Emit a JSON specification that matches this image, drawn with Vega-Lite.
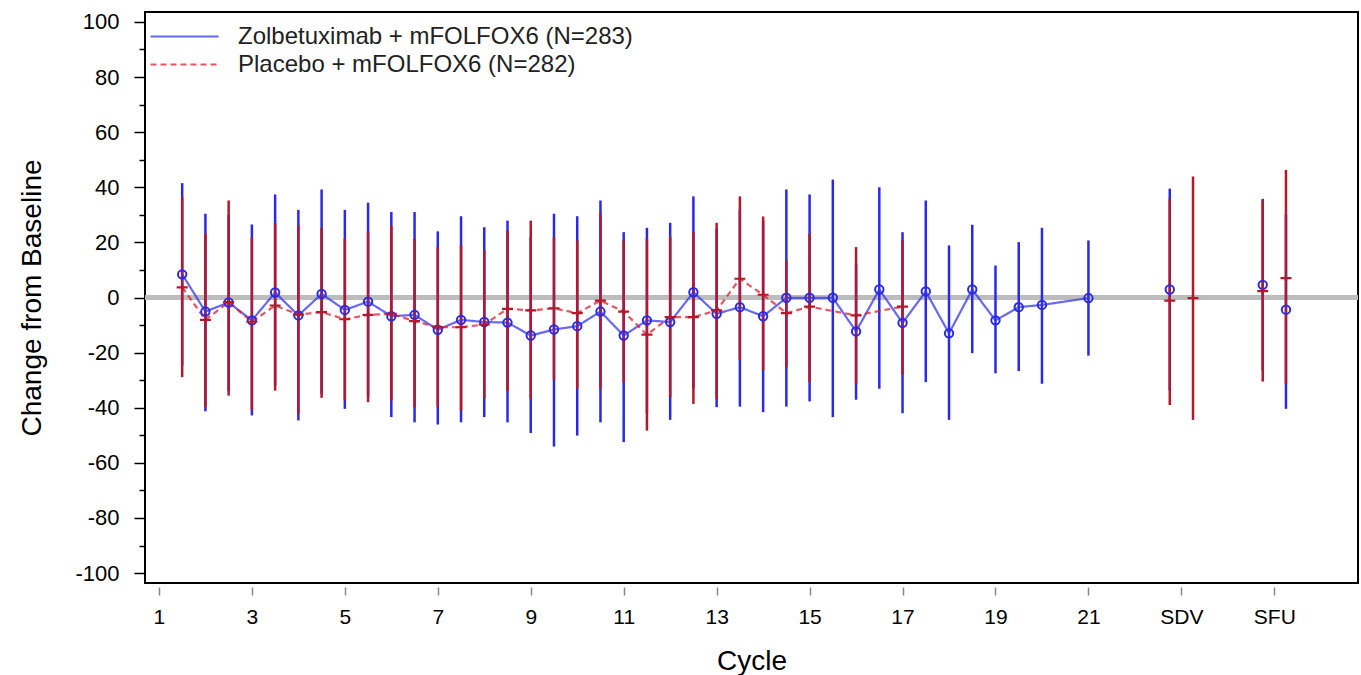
{
  "$schema": "https://vega.github.io/schema/vega-lite/v6.json",
  "autosize": "none",
  "width": 1213,
  "height": 571,
  "padding": {"left": 145, "top": 12, "right": 3, "bottom": 92},
  "background": "white",
  "config": {
    "view": {"stroke": "black", "strokeWidth": 2},
    "font": "Liberation Sans",
    "axis": {"labelFont": "Liberation Sans", "titleFont": "Liberation Sans", "labelColor": "black", "titleColor": "black", "titleFontWeight": "normal", "grid": false}
  },
  "datasets": {
    "means": [
      {"cycle": 1.5, "arm": "Zolbetuximab + mFOLFOX6 (N=283)", "mean": 8.4, "lo": -24.7, "hi": 41.5},
      {"cycle": 2, "arm": "Zolbetuximab + mFOLFOX6 (N=283)", "mean": -5.1, "lo": -41.3, "hi": 30.4},
      {"cycle": 2.5, "arm": "Zolbetuximab + mFOLFOX6 (N=283)", "mean": -1.8, "lo": -34, "hi": 30},
      {"cycle": 3, "arm": "Zolbetuximab + mFOLFOX6 (N=283)", "mean": -8.3, "lo": -42.8, "hi": 26.5},
      {"cycle": 3.5, "arm": "Zolbetuximab + mFOLFOX6 (N=283)", "mean": 1.8, "lo": -32, "hi": 37.4},
      {"cycle": 4, "arm": "Zolbetuximab + mFOLFOX6 (N=283)", "mean": -6.5, "lo": -44.6, "hi": 31.8},
      {"cycle": 4.5, "arm": "Zolbetuximab + mFOLFOX6 (N=283)", "mean": 1.3, "lo": -35, "hi": 39.2},
      {"cycle": 5, "arm": "Zolbetuximab + mFOLFOX6 (N=283)", "mean": -4.5, "lo": -40.4, "hi": 31.8},
      {"cycle": 5.5, "arm": "Zolbetuximab + mFOLFOX6 (N=283)", "mean": -1.5, "lo": -36, "hi": 34.4},
      {"cycle": 6, "arm": "Zolbetuximab + mFOLFOX6 (N=283)", "mean": -6.8, "lo": -43.4, "hi": 31.0},
      {"cycle": 6.5, "arm": "Zolbetuximab + mFOLFOX6 (N=283)", "mean": -6.3, "lo": -45.3, "hi": 31.0},
      {"cycle": 7, "arm": "Zolbetuximab + mFOLFOX6 (N=283)", "mean": -11.7, "lo": -46.1, "hi": 24.0},
      {"cycle": 7.5, "arm": "Zolbetuximab + mFOLFOX6 (N=283)", "mean": -8.1, "lo": -45.3, "hi": 29.5},
      {"cycle": 8, "arm": "Zolbetuximab + mFOLFOX6 (N=283)", "mean": -8.9, "lo": -43.4, "hi": 25.5},
      {"cycle": 8.5, "arm": "Zolbetuximab + mFOLFOX6 (N=283)", "mean": -9.1, "lo": -45.3, "hi": 27.9},
      {"cycle": 9, "arm": "Zolbetuximab + mFOLFOX6 (N=283)", "mean": -13.8, "lo": -49.2, "hi": 22},
      {"cycle": 9.5, "arm": "Zolbetuximab + mFOLFOX6 (N=283)", "mean": -11.6, "lo": -54.1, "hi": 30.4},
      {"cycle": 10, "arm": "Zolbetuximab + mFOLFOX6 (N=283)", "mean": -10.4, "lo": -50.1, "hi": 29.5},
      {"cycle": 10.5, "arm": "Zolbetuximab + mFOLFOX6 (N=283)", "mean": -5.1, "lo": -45.3, "hi": 35.2},
      {"cycle": 11, "arm": "Zolbetuximab + mFOLFOX6 (N=283)", "mean": -13.8, "lo": -52.5, "hi": 23.7},
      {"cycle": 11.5, "arm": "Zolbetuximab + mFOLFOX6 (N=283)", "mean": -8.3, "lo": -42, "hi": 25.3},
      {"cycle": 12, "arm": "Zolbetuximab + mFOLFOX6 (N=283)", "mean": -8.9, "lo": -44.4, "hi": 27.1},
      {"cycle": 12.5, "arm": "Zolbetuximab + mFOLFOX6 (N=283)", "mean": 1.9, "lo": -33, "hi": 36.7},
      {"cycle": 13, "arm": "Zolbetuximab + mFOLFOX6 (N=283)", "mean": -5.9, "lo": -39.8, "hi": 25},
      {"cycle": 13.5, "arm": "Zolbetuximab + mFOLFOX6 (N=283)", "mean": -3.5, "lo": -39.6, "hi": 32},
      {"cycle": 14, "arm": "Zolbetuximab + mFOLFOX6 (N=283)", "mean": -6.8, "lo": -41.6, "hi": 28},
      {"cycle": 14.5, "arm": "Zolbetuximab + mFOLFOX6 (N=283)", "mean": -0.1, "lo": -39.6, "hi": 39.2},
      {"cycle": 15, "arm": "Zolbetuximab + mFOLFOX6 (N=283)", "mean": -0.1, "lo": -37.7, "hi": 37.4},
      {"cycle": 15.5, "arm": "Zolbetuximab + mFOLFOX6 (N=283)", "mean": -0.1, "lo": -43.4, "hi": 42.8},
      {"cycle": 16, "arm": "Zolbetuximab + mFOLFOX6 (N=283)", "mean": -12.3, "lo": -37.1, "hi": 12},
      {"cycle": 16.5, "arm": "Zolbetuximab + mFOLFOX6 (N=283)", "mean": 2.9, "lo": -33.1, "hi": 40.0},
      {"cycle": 17, "arm": "Zolbetuximab + mFOLFOX6 (N=283)", "mean": -9.2, "lo": -42.0, "hi": 23.7},
      {"cycle": 17.5, "arm": "Zolbetuximab + mFOLFOX6 (N=283)", "mean": 2.2, "lo": -30.7, "hi": 35.2},
      {"cycle": 18, "arm": "Zolbetuximab + mFOLFOX6 (N=283)", "mean": -13.0, "lo": -44.4, "hi": 18.9},
      {"cycle": 18.5, "arm": "Zolbetuximab + mFOLFOX6 (N=283)", "mean": 2.9, "lo": -20.2, "hi": 26.4},
      {"cycle": 19, "arm": "Zolbetuximab + mFOLFOX6 (N=283)", "mean": -8.3, "lo": -27.5, "hi": 11.6},
      {"cycle": 19.5, "arm": "Zolbetuximab + mFOLFOX6 (N=283)", "mean": -3.5, "lo": -26.7, "hi": 20.1},
      {"cycle": 20, "arm": "Zolbetuximab + mFOLFOX6 (N=283)", "mean": -2.7, "lo": -31.3, "hi": 25.3},
      {"cycle": 21, "arm": "Zolbetuximab + mFOLFOX6 (N=283)", "mean": -0.2, "lo": -21.1, "hi": 20.7},
      {"cycle": 22.75, "arm": "Zolbetuximab + mFOLFOX6 (N=283)", "mean": 2.9, "lo": -33.7, "hi": 39.5},
      {"cycle": 24.75, "arm": "Zolbetuximab + mFOLFOX6 (N=283)", "mean": 4.6, "lo": -26.6, "hi": 35.8},
      {"cycle": 25.25, "arm": "Zolbetuximab + mFOLFOX6 (N=283)", "mean": -4.4, "lo": -40.4, "hi": 30},
      {"cycle": 1.5, "arm": "Placebo + mFOLFOX6 (N=282)", "mean": 3.7, "lo": -28.9, "hi": 36.4},
      {"cycle": 2, "arm": "Placebo + mFOLFOX6 (N=282)", "mean": -8.1, "lo": -39.8, "hi": 23.1},
      {"cycle": 2.5, "arm": "Placebo + mFOLFOX6 (N=282)", "mean": -1.7, "lo": -35.6, "hi": 35.2},
      {"cycle": 3, "arm": "Placebo + mFOLFOX6 (N=282)", "mean": -8.8, "lo": -41.0, "hi": 21.9},
      {"cycle": 3.5, "arm": "Placebo + mFOLFOX6 (N=282)", "mean": -2.9, "lo": -33.8, "hi": 27.0},
      {"cycle": 4, "arm": "Placebo + mFOLFOX6 (N=282)", "mean": -6.2, "lo": -42.2, "hi": 26.1},
      {"cycle": 4.5, "arm": "Placebo + mFOLFOX6 (N=282)", "mean": -5.3, "lo": -36.4, "hi": 25.3},
      {"cycle": 5, "arm": "Placebo + mFOLFOX6 (N=282)", "mean": -7.9, "lo": -37.4, "hi": 21.3},
      {"cycle": 5.5, "arm": "Placebo + mFOLFOX6 (N=282)", "mean": -6.3, "lo": -38.0, "hi": 23.7},
      {"cycle": 6, "arm": "Placebo + mFOLFOX6 (N=282)", "mean": -5.9, "lo": -37.4, "hi": 26.1},
      {"cycle": 6.5, "arm": "Placebo + mFOLFOX6 (N=282)", "mean": -8.6, "lo": -39.8, "hi": 21.3},
      {"cycle": 7, "arm": "Placebo + mFOLFOX6 (N=282)", "mean": -10.8, "lo": -39.8, "hi": 18.3},
      {"cycle": 7.5, "arm": "Placebo + mFOLFOX6 (N=282)", "mean": -10.8, "lo": -41.0, "hi": 18.9},
      {"cycle": 8, "arm": "Placebo + mFOLFOX6 (N=282)", "mean": -9.8, "lo": -36.5, "hi": 17.1},
      {"cycle": 8.5, "arm": "Placebo + mFOLFOX6 (N=282)", "mean": -4.1, "lo": -34.0, "hi": 24.3},
      {"cycle": 9, "arm": "Placebo + mFOLFOX6 (N=282)", "mean": -4.7, "lo": -36.8, "hi": 27.9},
      {"cycle": 9.5, "arm": "Placebo + mFOLFOX6 (N=282)", "mean": -3.9, "lo": -29.9, "hi": 21.9},
      {"cycle": 10, "arm": "Placebo + mFOLFOX6 (N=282)", "mean": -5.7, "lo": -33.1, "hi": 20.7},
      {"cycle": 10.5, "arm": "Placebo + mFOLFOX6 (N=282)", "mean": -1.1, "lo": -33.1, "hi": 30.6},
      {"cycle": 11, "arm": "Placebo + mFOLFOX6 (N=282)", "mean": -5.1, "lo": -30.7, "hi": 20.7},
      {"cycle": 11.5, "arm": "Placebo + mFOLFOX6 (N=282)", "mean": -13.5, "lo": -48.3, "hi": 21.3},
      {"cycle": 12, "arm": "Placebo + mFOLFOX6 (N=282)", "mean": -7.1, "lo": -36.2, "hi": 21.9},
      {"cycle": 12.5, "arm": "Placebo + mFOLFOX6 (N=282)", "mean": -7.1, "lo": -38.6, "hi": 23.7},
      {"cycle": 13, "arm": "Placebo + mFOLFOX6 (N=282)", "mean": -4.7, "lo": -36.8, "hi": 27.1},
      {"cycle": 13.5, "arm": "Placebo + mFOLFOX6 (N=282)", "mean": 6.8, "lo": -22.6, "hi": 36.7},
      {"cycle": 14, "arm": "Placebo + mFOLFOX6 (N=282)", "mean": 1.0, "lo": -26.5, "hi": 29.4},
      {"cycle": 14.5, "arm": "Placebo + mFOLFOX6 (N=282)", "mean": -5.7, "lo": -25.3, "hi": 13.4},
      {"cycle": 15, "arm": "Placebo + mFOLFOX6 (N=282)", "mean": -3.3, "lo": -30.7, "hi": 23.1},
      {"cycle": 16, "arm": "Placebo + mFOLFOX6 (N=282)", "mean": -6.5, "lo": -31.3, "hi": 18.3},
      {"cycle": 17, "arm": "Placebo + mFOLFOX6 (N=282)", "mean": -3.3, "lo": -27.9, "hi": 20.7},
      {"cycle": 22.75, "arm": "Placebo + mFOLFOX6 (N=282)", "mean": -1.1, "lo": -39.0, "hi": 35.8},
      {"cycle": 23.25, "arm": "Placebo + mFOLFOX6 (N=282)", "mean": -0.2, "lo": -44.4, "hi": 43.9},
      {"cycle": 24.75, "arm": "Placebo + mFOLFOX6 (N=282)", "mean": 2.3, "lo": -30.5, "hi": 35.2},
      {"cycle": 25.25, "arm": "Placebo + mFOLFOX6 (N=282)", "mean": 7.0, "lo": -31.3, "hi": 46.3}
    ]
  },
  "data": {"name": "means"},
  "resolve": {"axis": {"y": "independent"}},
  "layer": [
    {
      "mark": {"type": "rule", "color": "#bdbdbd", "strokeWidth": 3.5},
      "encoding": {
        "y": {"datum": 0, "type": "quantitative", "scale": {"domain": [-103.6, 103.6], "nice": false, "zero": false},
          "axis": {"orient": "left", "values": [-90, -70, -50, -30, -10, 10, 30, 50, 70, 90], "labels": false, "domain": false, "tickSize": 6, "tickWidth": 1.5, "tickColor": "black", "title": null}}
      }
    },
    {
      "transform": [{"filter": "datum.arm == 'Zolbetuximab + mFOLFOX6 (N=283)'"}],
      "mark": {"type": "rule", "color": "#2a2ae6", "strokeWidth": 2.5},
      "encoding": {
        "x": {"field": "cycle", "type": "quantitative", "scale": {"domain": [0.7, 26.8], "nice": false, "zero": false},
          "axis": {"values": [1, 3, 5, 7, 9, 11, 13, 15, 17, 19, 21, 23, 25], "labelExpr": "datum.value == 23 ? 'SDV' : datum.value == 25 ? 'SFU' : datum.label", "domain": false, "offset": 4, "tickSize": 8, "tickWidth": 1.5, "tickColor": "#888888", "labelFontSize": 21, "labelPadding": 11, "title": "Cycle", "titleFontSize": 28, "titlePadding": 20}},
        "y": {"field": "lo", "type": "quantitative",
          "axis": {"orient": "left", "values": [-100, -80, -60, -40, -20, 0, 20, 40, 60, 80, 100], "labelExpr": "datum.value < 0 ? '-' + abs(datum.value) : '' + datum.value", "domain": false, "tickSize": 11, "tickWidth": 1.5, "tickColor": "black", "labelFontSize": 22, "labelPadding": 15, "title": "Change from Baseline", "titleFontSize": 28, "titlePadding": 28}},
        "y2": {"field": "hi"}
      }
    },
    {
      "transform": [{"filter": "datum.arm == 'Placebo + mFOLFOX6 (N=282)'"}],
      "mark": {"type": "rule", "color": "#b3182c", "strokeWidth": 2.5},
      "encoding": {
        "x": {"field": "cycle", "type": "quantitative"},
        "y": {"field": "lo", "type": "quantitative", "axis": null},
        "y2": {"field": "hi"}
      }
    },
    {
      "transform": [{"filter": "datum.cycle < 22"}],
      "mark": {"type": "line", "strokeWidth": 2.2, "opacity": 0.75},
      "encoding": {
        "x": {"field": "cycle", "type": "quantitative"},
        "y": {"field": "mean", "type": "quantitative", "axis": null},
        "color": {"field": "arm", "type": "nominal",
          "scale": {"domain": ["Zolbetuximab + mFOLFOX6 (N=283)", "Placebo + mFOLFOX6 (N=282)"], "range": ["#3535ee", "#e21c2c"]},
          "legend": {"title": null, "orient": "none", "legendX": 27, "legendY": 12, "symbolType": "M-3,0L3,0", "symbolSize": 514, "symbolStrokeWidth": 2, "labelFontSize": 24, "labelFont": "Liberation Sans", "labelColor": "#222222", "labelOffset": 41, "rowPadding": 3, "labelLimit": 700, "symbolOpacity": 1}},
        "strokeDash": {"field": "arm", "type": "nominal",
          "scale": {"domain": ["Zolbetuximab + mFOLFOX6 (N=283)", "Placebo + mFOLFOX6 (N=282)"], "range": [[1, 0], [6, 4]]},
          "legend": {"title": null, "orient": "none", "legendX": 27, "legendY": 12, "symbolType": "M-3,0L3,0", "symbolSize": 514, "symbolStrokeWidth": 2, "labelFontSize": 24, "labelFont": "Liberation Sans", "labelColor": "#222222", "labelOffset": 41, "rowPadding": 3, "labelLimit": 700}}
      }
    },
    {
      "transform": [{"filter": "datum.arm == 'Zolbetuximab + mFOLFOX6 (N=283)'"}],
      "mark": {"type": "point", "shape": "circle", "filled": false, "color": "#2a2ae6", "strokeWidth": 2, "size": 70, "opacity": 1},
      "encoding": {
        "x": {"field": "cycle", "type": "quantitative"},
        "y": {"field": "mean", "type": "quantitative", "axis": null}
      }
    },
    {
      "transform": [{"filter": "datum.arm == 'Placebo + mFOLFOX6 (N=282)'"}],
      "mark": {"type": "point", "shape": "M-1,0L1,0M0,-0.5L0,0.5", "filled": false, "color": "#b3182c", "strokeWidth": 2.2, "size": 121, "opacity": 1},
      "encoding": {
        "x": {"field": "cycle", "type": "quantitative"},
        "y": {"field": "mean", "type": "quantitative", "axis": null}
      }
    }
  ]
}
